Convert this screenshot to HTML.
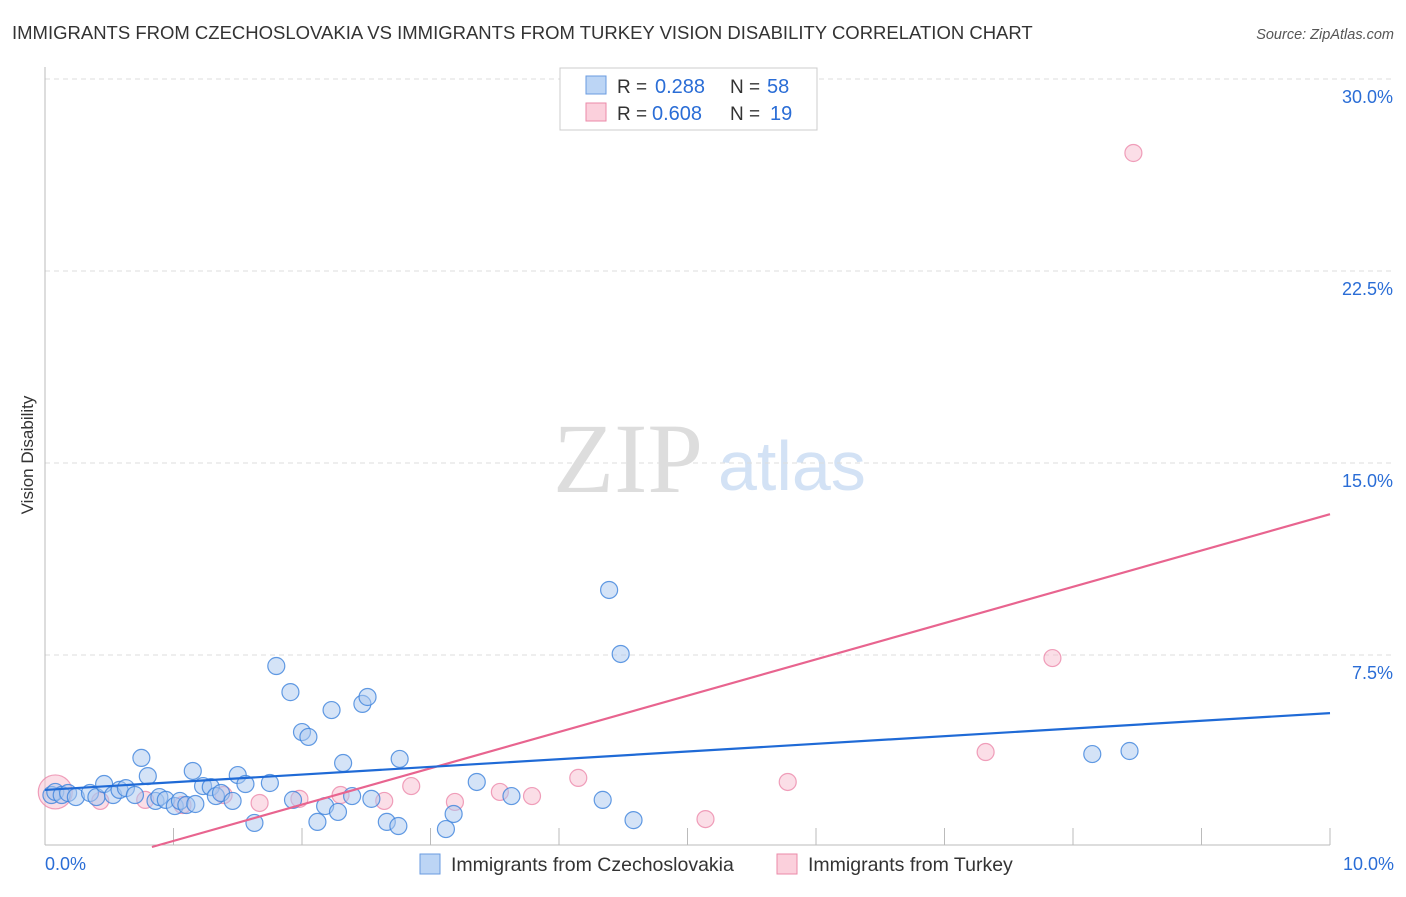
<!DOCTYPE html>
<html><head><meta charset="utf-8"><style>
body{margin:0;background:#fff}
</style></head><body>
<svg id="chart" width="1406" height="892" font-family="Liberation Sans, sans-serif">
<text x="12" y="39" font-size="18.5" fill="#333">IMMIGRANTS FROM CZECHOSLOVAKIA VS IMMIGRANTS FROM TURKEY VISION DISABILITY CORRELATION CHART</text>
<text x="1394" y="39" font-size="14.5" fill="#555" text-anchor="end" font-style="italic">Source: ZipAtlas.com</text>
<text transform="translate(33,455) rotate(-90)" font-size="17" fill="#333" text-anchor="middle">Vision Disability</text>
<text x="553" y="492" font-size="100" fill="#ddd" font-family="Liberation Serif, serif">ZIP</text>
<text x="718" y="490" font-size="70" fill="#d3e2f5">atlas</text>
<g id="grid"></g><g id="marks"></g>
<g>
<rect x="560" y="68" width="257" height="62" fill="#fff" stroke="#ccc"/>
<rect x="586" y="76" width="20" height="18" fill="#bcd5f5" stroke="#6a9be0"/>
<rect x="586" y="103" width="20" height="18" fill="#fbd0dc" stroke="#eb8aa8"/>
<text x="617" y="93" font-size="19" fill="#333">R =</text>
<text x="655" y="93" font-size="20" fill="#2a6dd6">0.288</text>
<text x="730" y="93" font-size="19" fill="#333">N =</text>
<text x="767" y="93" font-size="20" fill="#2a6dd6">58</text>
<text x="617" y="120" font-size="19" fill="#333">R =</text>
<text x="652" y="120" font-size="20" fill="#2a6dd6">0.608</text>
<text x="730" y="120" font-size="19" fill="#333">N =</text>
<text x="770" y="120" font-size="20" fill="#2a6dd6">19</text>
</g>
<g>
<rect x="420" y="854" width="20" height="20" fill="#bcd5f5" stroke="#6a9be0"/>
<text x="451" y="871" font-size="19.5" fill="#333">Immigrants from Czechoslovakia</text>
<rect x="777" y="854" width="20" height="20" fill="#fbd0dc" stroke="#eb8aa8"/>
<text x="808" y="871" font-size="19.5" fill="#333">Immigrants from Turkey</text>
</g>
</svg>
<script>
const yTicks=[7.5,15,22.5,30];
const yTickLabels=["7.5%","15.0%","22.5%","30.0%"];
const czechX=[0.05,0.08,0.13,0.18,0.24,0.35,0.40,0.46,0.53,0.58,0.63,0.70,0.75,0.80,0.86,0.89,0.94,1.01,1.05,1.10,1.15,1.17,1.23,1.29,1.33,1.37,1.46,1.50,1.56,1.63,1.75,1.80,1.91,1.93,2.00,2.05,2.12,2.18,2.23,2.28,2.32,2.39,2.47,2.51,2.54,2.66,2.75,2.76,3.12,3.18,3.36,3.63,4.34,4.39,4.48,4.58,8.15,8.44];
const czechY=[2.03,2.15,2.03,2.11,1.95,2.11,1.95,2.46,2.03,2.23,2.30,2.03,3.48,2.77,1.80,1.95,1.84,1.60,1.80,1.64,2.97,1.68,2.38,2.34,1.99,2.11,1.80,2.81,2.46,0.94,2.50,7.07,6.05,1.84,4.49,4.30,0.98,1.60,5.35,1.37,3.28,1.99,5.59,5.86,1.88,0.98,0.82,3.44,0.70,1.29,2.54,1.99,1.84,10.04,7.54,1.05,3.63,3.75];
const turkeyX=[0.08,0.43,0.78,1.07,1.39,1.67,1.98,2.30,2.64,2.85,3.19,3.54,3.79,4.15,5.14,5.78,7.32,7.84,8.47];
const turkeyY=[2.15,1.80,1.84,1.64,2.03,1.72,1.88,2.03,1.80,2.38,1.76,2.15,1.99,2.70,1.09,2.54,3.71,7.38,27.11];
const czechLine=[2.23,5.23];
const turkeyLine=[-1.18,13.0];
const NS="http://www.w3.org/2000/svg";
const X=v=>45+v/10*1285, Y=v=>847-v*25.6;
const grid=document.getElementById('grid'), marks=document.getElementById('marks');
function mk(tag,attrs,parent){const e=document.createElementNS(NS,tag);for(const k in attrs)e.setAttribute(k,attrs[k]);parent.appendChild(e);return e;}
yTicks.forEach((t,i)=>{
  const l=mk('line',{x1:45,x2:1394,y1:Y(t),y2:Y(t),stroke:'#ddd','stroke-dasharray':'5,4'},grid);
  
  
  const tx=mk('text',{x:1393,y:Y(t)+24,'font-size':18,fill:'#2a6dd6','text-anchor':'end'},grid);
  tx.textContent=yTickLabels[i];
  
  
});
const ax=mk('line',{x1:45,x2:45,y1:67,y2:845,stroke:'#bbb'},grid);


const bx=mk('line',{x1:45,x2:1330,y1:845,y2:845,stroke:'#bbb'},grid);


for(let i=1;i<=10;i++){
  const t=mk('line',{x1:X(i),x2:X(i),y1:828,y2:845,stroke:'#bbb'},grid);
  
  
}
[[0,"0.0%",'start',45],[10,"10.0%",'end',1394]].forEach(a=>{
  const t=mk('text',{x:a[3],y:870,'font-size':18,fill:'#2a6dd6','text-anchor':a[2]},grid);
  t.textContent=a[1];
  
  
});
turkeyX.forEach((x,i)=>{
  const c=mk('circle',{cx:X(x),cy:Y(turkeyY[i]),r:i==0?17:8.5,fill:'rgba(248,190,208,0.5)',stroke:'rgba(235,130,165,0.75)','stroke-width':1.2},marks);
  
  
});
czechX.forEach((x,i)=>{
  const c=mk('circle',{cx:X(x),cy:Y(czechY[i]),r:8.5,fill:'rgba(170,200,240,0.5)',stroke:'rgba(60,130,220,0.8)','stroke-width':1.2},marks);
  
  
});
const x0t=(0-turkeyLine[0])/(turkeyLine[1]-turkeyLine[0])*10;
const pl=mk('line',{x1:X(x0t),y1:Y(0),x2:X(10),y2:Y(turkeyLine[1]),stroke:'#e8648f','stroke-width':2.2},marks);


const bl=mk('line',{x1:X(0),y1:Y(czechLine[0]),x2:X(10),y2:Y(czechLine[1]),stroke:'#1f6ad6','stroke-width':2.2},marks);


</script>
</body></html>
